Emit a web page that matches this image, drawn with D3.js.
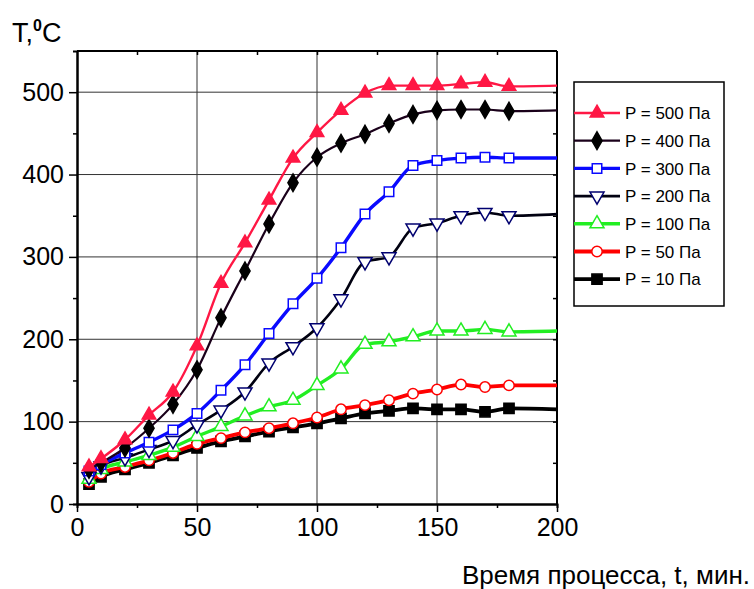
<!DOCTYPE html>
<html><head><meta charset="utf-8">
<script src="https://cdn.jsdelivr.net/npm/d3@7"></script>
<style>body{margin:0;background:#fff}svg{display:block;font-family:"Liberation Sans",Arial,sans-serif}</style>
</head><body><svg id="c" width="754" height="589"></svg>
<script>
const times = [5,10,20,30,40,50,60,70,80,90,100,110,120,130,140,150,160,170,180,200];
const p500 = [45,55,78,108,136,192,268,317,369,420,451,478,499,508,508,508,510,512,507,508];
const p400 = [42,50,68,92,121,163,226,283,340,390,421,438,449,462,473,478,479,479,477,478];
const p300 = [40,48,62,75,90,110,138,169,207,243,274,311,352,379,411,417,420,421,420,420];
const p200 = [33,46,56,66,77,96,114,136,171,191,214,249,294,300,335,341,350,354,350,352];
const p100 = [30,42,51,59,69,82,94,107,118,126,144,164,194,197,203,210,210,212,209,210];
const p50  = [27,37,45,53,62,73,80,87,92,98,105,115,120,126,134,139,145,142,144,144];
const p10  = [24,33,42,50,59,68,76,82,88,93,98,104,110,113,116,115,115,112,116,115];
const seriesNames = ["P = 500 Па","P = 400 Па","P = 300 Па","P = 200 Па","P = 100 Па","P = 50 Па","P = 10 Па"];
const xTicks = [0,50,100,150,200];
const yTicks = [0,100,200,300,400,500];

const styles = [
  {data:p500, line:"#ff1744", lw:2.4, sym:d3.symbolTriangle, size:80, fill:"#ff1744", stroke:"#ff1744", rot:0},
  {data:p400, line:"#1a001a", lw:2.2, sym:d3.symbolDiamond, size:90, fill:"#000", stroke:"#000", rot:0},
  {data:p300, line:"#0a0aff", lw:3.4, sym:d3.symbolSquare, size:90, fill:"#fff", stroke:"#0a0aff", rot:0},
  {data:p200, line:"#000010", lw:2.6, sym:d3.symbolTriangle, size:85, fill:"#fff", stroke:"#000070", rot:180},
  {data:p100, line:"#22ee22", lw:3.4, sym:d3.symbolTriangle, size:85, fill:"#fff", stroke:"#22ee22", rot:0},
  {data:p50,  line:"#ff0000", lw:3.8, sym:d3.symbolCircle, size:85, fill:"#fff", stroke:"#ff0000", rot:0},
  {data:p10,  line:"#000", lw:3.8, sym:d3.symbolSquare, size:105, fill:"#000", stroke:"#000", rot:0}
];

const svg = d3.select("#c");
const L=77, R=557, T=51, B=504;
const x = d3.scaleLinear().domain([0,200]).range([L,R]);
const y = d3.scaleLinear().domain([0,550]).range([B,T]);

// grid
const g = svg.append("g");
g.selectAll(".gx").data(xTicks.filter(d=>d>0&&d<200)).enter().append("line")
 .attr("x1",d=>x(d)).attr("x2",d=>x(d)).attr("y1",T).attr("y2",B).attr("stroke","#333").attr("stroke-width",1);
g.selectAll(".gy").data(yTicks.filter(d=>d>0)).enter().append("line")
 .attr("y1",d=>y(d)).attr("y2",d=>y(d)).attr("x1",L).attr("x2",R).attr("stroke","#333").attr("stroke-width",1);

// axes
const xAx = d3.axisBottom(x).tickValues(xTicks).tickSize(8).tickSizeOuter(0).tickPadding(6);
const xMinor = d3.axisBottom(x).tickValues([25,75,125,175]).tickSize(4).tickFormat("");
const yAx = d3.axisLeft(y).tickValues(yTicks).tickSize(8).tickSizeOuter(0).tickPadding(5);
const yMinor = d3.axisLeft(y).tickValues([50,150,250,350,450]).tickSize(4).tickFormat("");
const xTop = d3.axisBottom(x).tickValues([25,50,75,100,125,150,175]).tickSize(4).tickFormat("");
const yRight = d3.axisLeft(y).tickValues([50,100,150,200,250,300,350,400,450,500]).tickSize(4).tickFormat("");

function styleAxis(sel){
  sel.selectAll("path").attr("stroke","#000").attr("stroke-width",2);
  sel.selectAll("line").attr("stroke","#000").attr("stroke-width",1.5);
  sel.selectAll("text").attr("font-size",25).attr("fill","#000").attr("font-family","'Liberation Sans',Arial,sans-serif");
}
svg.append("g").attr("transform",`translate(0,${B})`).call(xAx).call(styleAxis);
svg.append("g").attr("transform",`translate(0,${B})`).call(xMinor).call(styleAxis);
svg.append("g").attr("transform",`translate(${L},0)`).call(yAx).call(styleAxis);
svg.append("g").attr("transform",`translate(${L},0)`).call(yMinor).call(styleAxis);
svg.append("g").attr("transform",`translate(0,${T})`).call(xTop).call(styleAxis).select("path").remove();
svg.append("g").attr("transform",`translate(${R},0)`).call(yRight).call(styleAxis).select("path").remove();
svg.append("line").attr("x1",L).attr("x2",R).attr("y1",T).attr("y2",T).attr("stroke","#000").attr("stroke-width",2);
svg.append("line").attr("x1",R).attr("x2",R).attr("y1",T).attr("y2",B).attr("stroke","#000").attr("stroke-width",2);

// series (draw bottom first)
const lineGen = d3.line().x((d,i)=>x(times[i])).y(d=>y(d)).curve(d3.curveMonotoneX);
const plot = svg.append("g");
styles.slice().reverse().forEach(s=>{
  plot.append("path").attr("d",lineGen(s.data)).attr("fill","none").attr("stroke",s.line).attr("stroke-width",s.lw);
  const pts = s.data.map((v,i)=>({t:times[i],v})).filter(p=>p.t<=180);
  plot.selectAll(null).data(pts).enter().append("path")
    .attr("d",d3.symbol().type(s.sym).size(s.size))
    .attr("transform",p=>`translate(${x(p.t)},${y(p.v)}) rotate(${s.rot})`)
    .attr("fill",s.fill).attr("stroke",s.stroke).attr("stroke-width",1.5);
});

// legend
const lg = svg.append("g");
lg.append("rect").attr("x",574).attr("y",82).attr("width",150).attr("height",224).attr("fill","#fff").attr("stroke","#000").attr("stroke-width",1.5);
styles.forEach((s,i)=>{
  const yy = 113 + i*27.7;
  lg.append("line").attr("x1",574).attr("x2",620).attr("y1",yy).attr("y2",yy).attr("stroke",s.line).attr("stroke-width",s.lw);
  lg.append("path").attr("d",d3.symbol().type(s.sym).size(s.size)).attr("transform",`translate(597,${yy}) rotate(${s.rot})`)
    .attr("fill",s.fill).attr("stroke",s.stroke).attr("stroke-width",1.5);
  lg.append("text").attr("x",625).attr("y",yy).attr("dy","0.36em").attr("font-size",17).attr("fill","#000").text(seriesNames[i]);
});

// titles
const yt = svg.append("text").attr("x",12).attr("y",42).attr("font-size",27).attr("fill","#000");
yt.append("tspan").text("T,");
yt.append("tspan").attr("font-size",16).attr("font-weight","bold").attr("dy",-11).text("0");
yt.append("tspan").attr("dy",11).text("C");
svg.append("text").attr("x",750).attr("y",584).attr("text-anchor","end").attr("font-size",26).attr("fill","#000").text("Время процесса, t, мин.");
</script></body></html>
